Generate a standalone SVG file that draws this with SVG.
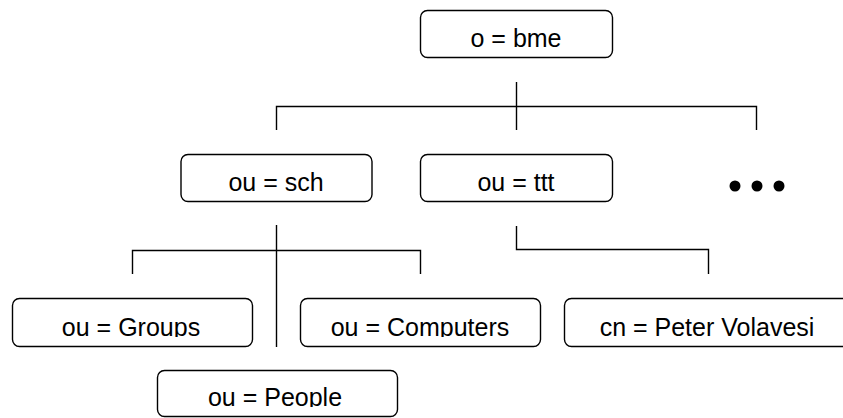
<svg xmlns="http://www.w3.org/2000/svg" width="843" height="418" viewBox="0 0 843 418">
  <style>
    .box { fill: #ffffff; stroke: #000000; stroke-width: 1.4; }
    .lbl { font-family: "Liberation Sans", Arial, sans-serif; font-size: 25px; fill: #000000; text-anchor: middle; }
    .wire { fill: none; stroke: #000000; stroke-width: 1.4; }
  </style>
  <defs>
    <!-- labels sit on the box bottom, so their descenders are cut at the baseline -->
    <clipPath id="cut-r1" clipPathUnits="userSpaceOnUse"><rect x="0" y="0" width="843" height="48"/></clipPath>
    <clipPath id="cut-r2" clipPathUnits="userSpaceOnUse"><rect x="0" y="0" width="843" height="192"/></clipPath>
    <clipPath id="cut-r3" clipPathUnits="userSpaceOnUse"><rect x="0" y="0" width="843" height="337"/></clipPath>
    <clipPath id="cut-r4" clipPathUnits="userSpaceOnUse"><rect x="0" y="0" width="843" height="407"/></clipPath>
  </defs>
  <rect width="843" height="418" fill="#ffffff"/>

  <g id="connectors">
    <path class="wire" d="M516.5 82 V130"/>
    <path class="wire" d="M276.5 130 V106.5 H756.5 V130"/>
    <path class="wire" d="M276.5 225 V347"/>
    <path class="wire" d="M132.5 274 V250.5 H420.5 V274"/>
    <path class="wire" d="M516.5 226 V249.5 H708.5 V274"/>
  </g>

  <g id="o-bme">
    <rect class="box" x="420.5" y="10.5" width="192" height="47" rx="7"/>
    <text class="lbl" x="516" y="47" clip-path="url(#cut-r1)">o = bme</text>
  </g>

  <g id="ou-sch">
    <rect class="box" x="181" y="154.5" width="191" height="47" rx="7"/>
    <text class="lbl" x="276" y="191" clip-path="url(#cut-r2)">ou = sch</text>
  </g>

  <g id="ou-ttt">
    <rect class="box" x="420.5" y="154.5" width="192" height="47" rx="7"/>
    <text class="lbl" x="516" y="191" clip-path="url(#cut-r2)">ou = ttt</text>
  </g>

  <g id="more">
    <circle cx="735" cy="186" r="5.5" fill="#000000"/>
    <circle cx="757" cy="186" r="5.5" fill="#000000"/>
    <circle cx="779" cy="186" r="5.5" fill="#000000"/>
  </g>

  <g id="ou-groups">
    <rect class="box" x="12.5" y="298.5" width="240" height="48" rx="7"/>
    <text class="lbl" x="131" y="336" clip-path="url(#cut-r3)">ou = Groups</text>
  </g>

  <g id="ou-computers">
    <rect class="box" x="300.5" y="298.5" width="240" height="48" rx="7"/>
    <text class="lbl" x="420" y="336" clip-path="url(#cut-r3)">ou = Computers</text>
  </g>

  <g id="cn-peter">
    <rect class="box" x="564.5" y="298.5" width="290" height="48" rx="7"/>
    <text class="lbl" x="707" y="336" clip-path="url(#cut-r3)">cn = Peter Volavesi</text>
  </g>

  <g id="ou-people">
    <rect class="box" x="157.5" y="370.5" width="240" height="46" rx="7"/>
    <text class="lbl" x="275" y="406" clip-path="url(#cut-r4)">ou = People</text>
  </g>
</svg>
